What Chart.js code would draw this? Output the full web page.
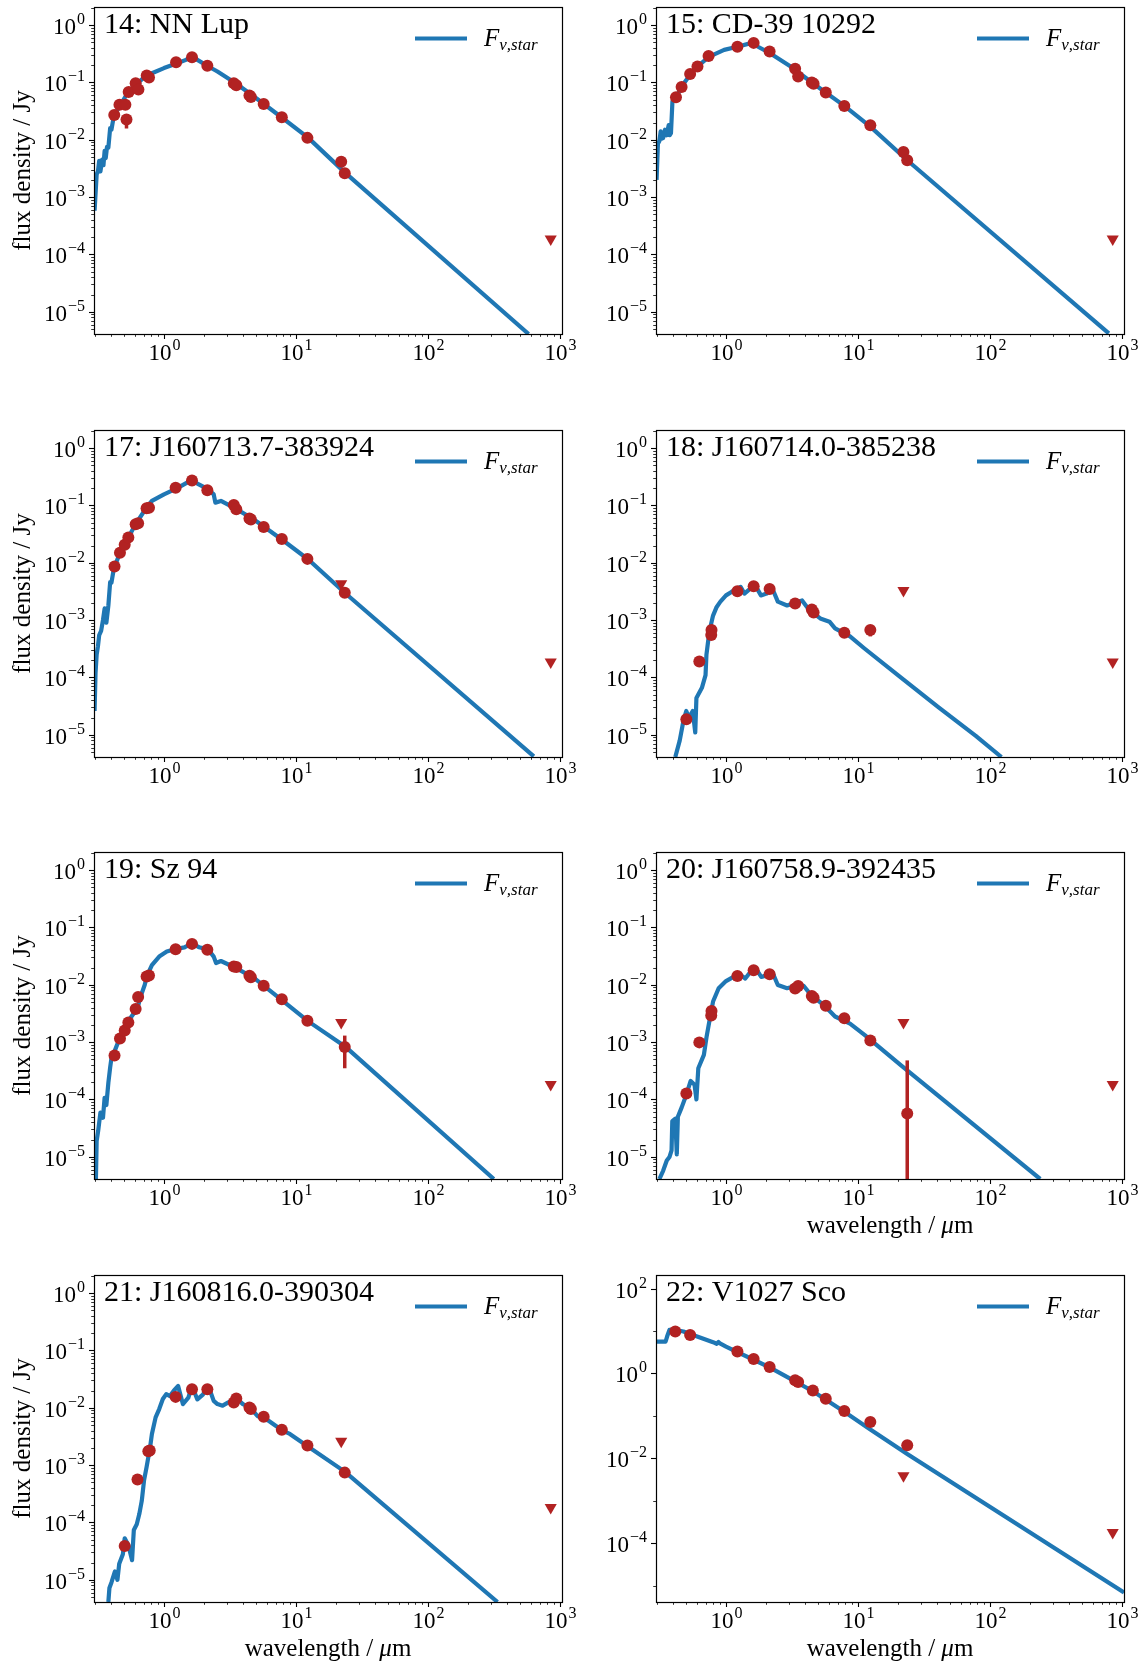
<!DOCTYPE html>
<html>
<head>
<meta charset="utf-8">
<script src="https://cdn.jsdelivr.net/npm/chart.js@4.4.1/dist/chart.umd.min.js"></script>
<style>
html, body { margin: 0; padding: 0; background: #fff; overflow: hidden; }
#fig { position: relative; width: 1147px; height: 1668px; overflow: hidden; }
#fig canvas { position: absolute; }
</style>
</head>
<body>
<div id="fig"></div>
<script>
// ---- data (wavelength in micron, flux density in Jy) ----

// 14: NN Lup
const model14Wave = [0.298, 0.309, 0.316, 0.323, 0.33, 0.34, 0.348, 0.355, 0.362, 0.37, 0.379, 0.391, 0.40, 0.417, 0.46, 0.52, 0.56, 0.63, 0.70, 0.81, 1.0, 1.26, 1.45, 1.63, 1.79, 2.17, 2.54, 3.49, 4.8, 7.9, 12.4, 23.4, 578];
const model14Flux = [5.8e-4, 2.5e-3, 2.8e-3, 4.3e-3, 2.8e-3, 4.5e-3, 3.6e-3, 6.4e-3, 4.8e-3, 7.5e-3, 7.3e-3, 0.016, 0.015, 0.026, 0.038, 0.061, 0.075, 0.097, 0.12, 0.145, 0.178, 0.216, 0.245, 0.28, 0.247, 0.19, 0.155, 0.097, 0.057, 0.024, 0.0108, 0.0027, 4.1e-6];
const phot14Wave = [0.42, 0.46, 0.51, 0.52, 0.54, 0.61, 0.64, 0.74, 0.77, 1.235, 1.63, 2.13, 3.38, 3.53, 4.44, 4.55, 5.69, 7.81, 12.2, 22.0, 23.4];
const phot14Flux = [0.027, 0.041, 0.041, 0.0225, 0.068, 0.097, 0.075, 0.132, 0.122, 0.225, 0.275, 0.195, 0.097, 0.089, 0.0595, 0.0557, 0.042, 0.0247, 0.0108, 0.00415, 0.0026];
const err14Wave = [0.52, 22.0];
const err14Lo = [0.0157, 3.5e-3];
const err14Hi = [0.0275, 4.9e-3];
const lim14Wave = [850];
const lim14Flux = [1.87e-4];

// 15: CD-39 10292
const model15Wave = [0.298, 0.305, 0.313, 0.32, 0.327, 0.334, 0.345, 0.355, 0.368, 0.375, 0.383, 0.393, 0.418, 0.461, 0.54, 0.61, 0.74, 0.968, 1.22, 1.62, 1.75, 2.17, 3.09, 4.55, 7.88, 12.4, 23.6, 794];
const model15Flux = [2.0e-3, 8.5e-3, 9.5e-3, 0.014, 0.0105, 0.0107, 0.015, 0.012, 0.018, 0.012, 0.013, 0.047, 0.053, 0.085, 0.14, 0.19, 0.28, 0.37, 0.42, 0.5, 0.42, 0.32, 0.19, 0.097, 0.039, 0.017, 0.0044, 4.2e-6];
const phot15Wave = [0.418, 0.461, 0.535, 0.608, 0.738, 1.22, 1.62, 2.14, 3.34, 3.52, 4.47, 4.61, 5.7, 7.88, 12.4, 22.1, 23.6];
const phot15Flux = [0.055, 0.083, 0.14, 0.19, 0.29, 0.42, 0.49, 0.345, 0.173, 0.127, 0.1, 0.095, 0.067, 0.039, 0.018, 0.0061, 0.0044];
const lim15Wave = [850];
const lim15Flux = [1.87e-4];

// 17: J160713.7-383924
const model17Wave = [0.298, 0.303, 0.309, 0.316, 0.323, 0.334, 0.345, 0.355, 0.366, 0.379, 0.391, 0.40, 0.417, 0.464, 0.537, 0.61, 0.715, 0.81, 1.0, 1.26, 1.63, 1.79, 2.17, 2.38, 2.45, 2.7, 3.49, 4.8, 7.9, 12.4, 23.4, 633];
const model17Flux = [2.6e-5, 1.2e-4, 2.5e-4, 3.5e-4, 5.5e-4, 6.5e-4, 1.0e-3, 1.6e-3, 9e-4, 1.8e-3, 4.6e-3, 4.5e-3, 7.9e-3, 0.015, 0.028, 0.047, 0.083, 0.12, 0.156, 0.2, 0.28, 0.24, 0.19, 0.156, 0.112, 0.12, 0.088, 0.057, 0.025, 0.0114, 0.003, 4.2e-6];
const phot17Wave = [0.422, 0.464, 0.504, 0.537, 0.61, 0.637, 0.738, 0.77, 1.225, 1.63, 2.13, 3.38, 3.53, 4.44, 4.55, 5.69, 7.81, 12.2, 23.4];
const phot17Flux = [0.0086, 0.0149, 0.0207, 0.0277, 0.047, 0.049, 0.089, 0.091, 0.203, 0.272, 0.185, 0.102, 0.086, 0.059, 0.057, 0.042, 0.026, 0.0117, 0.003];
const lim17Wave = [22.0, 850];
const lim17Flux = [4.3e-3, 1.86e-4];

// 18: J160714.0-385238
const model18Wave = [0.413, 0.446, 0.476, 0.50, 0.524, 0.56, 0.585, 0.597, 0.657, 0.70, 0.711, 0.748, 0.798, 0.85, 0.907, 1.0, 1.1, 1.29, 1.38, 1.52, 1.67, 1.84, 2.03, 2.24, 2.47, 2.9, 3.52, 3.77, 4.27, 5.18, 6.08, 6.7, 8.7, 11.2, 21.3, 40.8, 78, 122];
const model18Flux = [4.1e-6, 7.9e-6, 1.75e-5, 2.6e-5, 2.0e-5, 2.6e-5, 1.1e-5, 4.4e-5, 6.6e-5, 1.1e-4, 2.5e-4, 6.3e-4, 1.2e-3, 1.7e-3, 2.1e-3, 2.7e-3, 3.1e-3, 3.8e-3, 2.9e-3, 3.5e-3, 4.0e-3, 2.7e-3, 2.9e-3, 3.6e-3, 2.1e-3, 1.8e-3, 2.1e-3, 2.2e-3, 1.5e-3, 1.07e-3, 9.4e-4, 7.2e-4, 5.2e-4, 3.2e-4, 9.8e-5, 3.0e-5, 9.6e-6, 4.1e-6];
const phot18Wave = [0.501, 0.628, 0.773, 0.777, 1.22, 1.62, 2.14, 3.34, 4.47, 4.61, 7.88, 12.4];
const phot18Flux = [1.87e-5, 1.9e-4, 5.5e-4, 6.7e-4, 3.2e-3, 3.9e-3, 3.5e-3, 1.95e-3, 1.53e-3, 1.36e-3, 6.05e-4, 6.7e-4];
const err18Wave = [12.4];
const err18Lo = [5.2e-4];
const err18Hi = [7.7e-4];
const lim18Wave = [22.1, 850];
const lim18Flux = [3.3e-3, 1.86e-4];

// 19: Sz 94
const model19Wave = [0.305, 0.309, 0.317, 0.33, 0.345, 0.355, 0.366, 0.379, 0.391, 0.40, 0.422, 0.464, 0.504, 0.555, 0.63, 0.66, 0.715, 0.74, 0.81, 0.92, 1.05, 1.225, 1.43, 1.63, 1.85, 2.17, 2.38, 2.48, 2.7, 3.49, 4.8, 7.9, 12.4, 23.4, 315];
const model19Flux = [4.1e-6, 1.9e-5, 2.8e-5, 5.9e-5, 4.8e-5, 1.07e-4, 8e-5, 1.96e-4, 3.6e-4, 5.3e-4, 6.9e-4, 1.2e-3, 1.6e-3, 2.6e-3, 3.9e-3, 5.9e-3, 0.01, 0.014, 0.022, 0.031, 0.038, 0.042, 0.045, 0.053, 0.045, 0.041, 0.031, 0.024, 0.026, 0.0197, 0.0132, 5.3e-3, 2.3e-3, 8.5e-4, 4.1e-6];
const phot19Wave = [0.422, 0.464, 0.504, 0.537, 0.61, 0.637, 0.738, 0.77, 1.225, 1.63, 2.13, 3.38, 3.53, 4.44, 4.55, 5.69, 7.81, 12.2, 23.4];
const phot19Flux = [5.85e-4, 1.16e-3, 1.59e-3, 2.2e-3, 3.8e-3, 6.1e-3, 0.014, 0.0145, 0.0418, 0.0517, 0.0407, 0.0209, 0.0205, 0.0144, 0.0135, 9.6e-3, 5.6e-3, 2.37e-3, 8.2e-4];
const err19Wave = [23.4];
const err19Lo = [3.5e-4];
const err19Hi = [1.3e-3];
const lim19Wave = [22.0, 850];
const lim19Flux = [2.2e-3, 1.83e-4];

// 20: J160758.9-392435
const model20Wave = [0.313, 0.334, 0.356, 0.373, 0.387, 0.392, 0.413, 0.424, 0.432, 0.461, 0.50, 0.54, 0.578, 0.597, 0.617, 0.68, 0.711, 0.748, 0.798, 0.88, 1.0, 1.14, 1.25, 1.4, 1.57, 1.68, 1.85, 2.03, 2.24, 2.47, 2.9, 3.52, 3.87, 4.41, 5.53, 6.7, 8.7, 11.2, 21.3, 240];
const model20Flux = [4.1e-6, 5.7e-6, 8.6e-6, 9.9e-6, 1.3e-5, 4.2e-5, 4.6e-5, 1.1e-5, 5e-5, 7.2e-5, 1.2e-4, 2.1e-4, 1.8e-4, 1.0e-4, 3.5e-4, 6e-4, 1.2e-3, 2.3e-3, 5.1e-3, 8.7e-3, 0.0116, 0.0137, 0.0157, 0.0129, 0.018, 0.0193, 0.0137, 0.0146, 0.0168, 9.9e-3, 8.7e-3, 9.8e-3, 9.6e-3, 6.6e-3, 4.4e-3, 2.8e-3, 2.1e-3, 1.34e-3, 3.9e-4, 4.1e-6];
const phot20Wave = [0.501, 0.628, 0.773, 0.777, 1.22, 1.62, 2.14, 3.34, 3.52, 4.47, 4.61, 5.7, 7.88, 12.4, 23.6];
const phot20Flux = [1.27e-4, 9.9e-4, 2.9e-3, 3.5e-3, 0.0143, 0.018, 0.0153, 8.6e-3, 9.5e-3, 6.4e-3, 5.95e-3, 4.3e-3, 2.6e-3, 1.07e-3, 5.7e-5];
const err20Wave = [23.6];
const err20Lo = [1e-6];
const err20Hi = [4.8e-4];
const lim20Wave = [22.1, 850];
const lim20Flux = [2.2e-3, 1.82e-4];

// 21: J160816.0-390304
const model21Wave = [0.379, 0.386, 0.40, 0.425, 0.444, 0.458, 0.488, 0.504, 0.537, 0.573, 0.591, 0.622, 0.65, 0.679, 0.706, 0.738, 0.786, 0.81, 0.864, 0.92, 0.98, 1.04, 1.11, 1.19, 1.28, 1.39, 1.53, 1.63, 1.79, 1.97, 2.17, 2.38, 2.54, 2.78, 3.07, 3.49, 3.96, 4.49, 5.1, 6.16, 6.97, 7.92, 8.98, 12.4, 23.4, 336];
const model21Flux = [4.1e-6, 7.2e-6, 9e-6, 1.4e-5, 1.0e-5, 1.9e-5, 2.8e-5, 5.3e-5, 4.0e-5, 2.2e-5, 7.4e-5, 9.3e-5, 1.4e-4, 2.4e-4, 5.4e-4, 9.2e-4, 2.1e-3, 3.5e-3, 6.8e-3, 9.5e-3, 0.0142, 0.0173, 0.016, 0.02, 0.024, 0.0116, 0.015, 0.024, 0.014, 0.017, 0.024, 0.0132, 0.0116, 0.0109, 0.0124, 0.0151, 0.0116, 0.0101, 7.2e-3, 6.0e-3, 4.9e-3, 4.0e-3, 3.5e-3, 2.1e-3, 7.7e-4, 4.1e-6];
const phot21Wave = [0.504, 0.63, 0.761, 0.78, 1.225, 1.63, 2.13, 3.38, 3.53, 4.44, 4.55, 5.69, 7.81, 12.2, 23.4];
const phot21Flux = [3.9e-5, 5.6e-4, 1.75e-3, 1.8e-3, 0.0155, 0.021, 0.021, 0.0124, 0.0145, 0.0101, 9.5e-3, 7.0e-3, 4.15e-3, 2.2e-3, 7.4e-4];
const lim21Wave = [22.0, 850];
const lim21Flux = [2.6e-3, 1.82e-4];

// 22: V1027 Sco
const model22Wave = [0.296, 0.349, 0.358, 0.373, 0.418, 0.476, 0.542, 0.658, 0.798, 0.85, 0.877, 0.9, 1.0, 1.22, 1.62, 2.14, 3.34, 4.55, 7.88, 12.4, 23.6, 1035];
const model22Flux = [5.65, 5.65, 7.4, 10.6, 10.6, 9.7, 8.4, 6.76, 5.45, 5.0, 5.5, 5.1, 4.3, 3.18, 2.1, 1.39, 0.65, 0.38, 0.125, 0.048, 0.0126, 6.9e-6];
const phot22Wave = [0.413, 0.535, 1.22, 1.62, 2.14, 3.34, 3.52, 4.55, 5.7, 7.88, 12.4, 23.6];
const phot22Flux = [9.7, 8.1, 3.3, 2.18, 1.42, 0.69, 0.63, 0.396, 0.253, 0.13, 0.072, 0.0204];
const lim22Wave = [22.1, 850];
const lim22Flux = [3.9e-3, 1.78e-4];

// axis limits
const X_MIN = 0.295, X_MAX = 1035;
const Y_MIN = 4.1e-6, Y_MAX = 2.07, Y_MAX_22 = 209;

// ---- layout (pixels) ----
const AX_LEFT = [94, 656];
const AX_TOP = [5, 428, 850, 1273];
const AX_W = 468, AX_H = 329;
const PAD = {left: 94, top: 5, right: 22, bottom: 61};

const BLUE = '#1f77b4';
const RED = '#b22222';
const SERIF = '"Liberation Serif", "DejaVu Serif", serif';

const panels = [
  {title: '14: NN Lup', col: 0, row: 0, mw: model14Wave, mf: model14Flux, pw: phot14Wave, pf: phot14Flux, ew: err14Wave, elo: err14Lo, ehi: err14Hi, lw: lim14Wave, lf: lim14Flux, yMax: Y_MAX, yStep: 1, xLabel: false, yLabel: true},
  {title: '15: CD-39 10292', col: 1, row: 0, mw: model15Wave, mf: model15Flux, pw: phot15Wave, pf: phot15Flux, ew: [], elo: [], ehi: [], lw: lim15Wave, lf: lim15Flux, yMax: Y_MAX, yStep: 1, xLabel: false, yLabel: false},
  {title: '17: J160713.7-383924', col: 0, row: 1, mw: model17Wave, mf: model17Flux, pw: phot17Wave, pf: phot17Flux, ew: [], elo: [], ehi: [], lw: lim17Wave, lf: lim17Flux, yMax: Y_MAX, yStep: 1, xLabel: false, yLabel: true},
  {title: '18: J160714.0-385238', col: 1, row: 1, mw: model18Wave, mf: model18Flux, pw: phot18Wave, pf: phot18Flux, ew: err18Wave, elo: err18Lo, ehi: err18Hi, lw: lim18Wave, lf: lim18Flux, yMax: Y_MAX, yStep: 1, xLabel: false, yLabel: false},
  {title: '19: Sz 94', col: 0, row: 2, mw: model19Wave, mf: model19Flux, pw: phot19Wave, pf: phot19Flux, ew: err19Wave, elo: err19Lo, ehi: err19Hi, lw: lim19Wave, lf: lim19Flux, yMax: Y_MAX, yStep: 1, xLabel: false, yLabel: true},
  {title: '20: J160758.9-392435', col: 1, row: 2, mw: model20Wave, mf: model20Flux, pw: phot20Wave, pf: phot20Flux, ew: err20Wave, elo: err20Lo, ehi: err20Hi, lw: lim20Wave, lf: lim20Flux, yMax: Y_MAX, yStep: 1, xLabel: true, yLabel: false},
  {title: '21: J160816.0-390304', col: 0, row: 3, mw: model21Wave, mf: model21Flux, pw: phot21Wave, pf: phot21Flux, ew: [], elo: [], ehi: [], lw: lim21Wave, lf: lim21Flux, yMax: Y_MAX, yStep: 1, xLabel: true, yLabel: true},
  {title: '22: V1027 Sco', col: 1, row: 3, mw: model22Wave, mf: model22Flux, pw: phot22Wave, pf: phot22Flux, ew: [], elo: [], ehi: [], lw: lim22Wave, lf: lim22Flux, yMax: Y_MAX_22, yStep: 2, xLabel: true, yLabel: false}
];

function pts(xs, ys) {
  return xs.map((x, i) => ({x: x, y: ys[i]}));
}

// vertical error bars as broken line segments
function errSegments(xs, lo, hi) {
  const out = [];
  xs.forEach((x, i) => {
    out.push({x: x, y: lo[i]}, {x: x, y: hi[i]}, {x: x, y: null});
  });
  return out;
}

// decade ticks; step = label every n decades, subs = minor ticks at 2..9
function logTicks(min, max, step, subs) {
  const major = [], minor = [];
  for (let e = Math.floor(Math.log10(min)); e <= Math.ceil(Math.log10(max)); e++) {
    const d = Math.pow(10, e);
    if (d >= min && d <= max) {
      if (e % step === 0) major.push(e); else minor.push(d);
    }
    if (subs) {
      for (let k = 2; k < 10; k++) {
        const v = k * d;
        if (v >= min && v <= max) minor.push(v);
      }
    }
  }
  return {major, minor};
}

function powLabel(ctx, e, x, y, align) {
  const base = '10';
  const ex = e < 0 ? '\u2212' + (-e) : String(e);
  ctx.font = '23px ' + SERIF;
  const wb = ctx.measureText(base).width;
  ctx.font = '16px ' + SERIF;
  const we = ctx.measureText(ex).width;
  const total = wb + 1 + we;
  const x0 = align === 'center' ? x - total / 2 : x - total;
  ctx.font = '23px ' + SERIF;
  ctx.fillText(base, x0, y);
  ctx.font = '16px ' + SERIF;
  ctx.fillText(ex, x0 + wb + 1, y - 10);
}

// frame, ticks, tick labels, title, legend and axis labels
const sedFrame = {
  id: 'sedFrame',
  afterDraw(chart, args, opts) {
    const ctx = chart.ctx;
    const a = chart.chartArea;
    const xs = chart.scales.x, ys = chart.scales.y;
    ctx.save();
    ctx.fillStyle = '#000';
    ctx.strokeStyle = '#000';
    ctx.textAlign = 'left';
    ctx.textBaseline = 'alphabetic';

    // x ticks
    const xt = logTicks(xs.min, xs.max, 1, true);
    ctx.lineWidth = 0.8;
    xt.minor.forEach(v => {
      const px = Math.round(xs.getPixelForValue(v)) + 0.5;
      ctx.beginPath(); ctx.moveTo(px, a.bottom); ctx.lineTo(px, a.bottom + 2.8); ctx.stroke();
    });
    ctx.lineWidth = 1.1;
    xt.major.forEach(e => {
      const px = Math.round(xs.getPixelForValue(Math.pow(10, e))) + 0.5;
      ctx.beginPath(); ctx.moveTo(px, a.bottom); ctx.lineTo(px, a.bottom + 5); ctx.stroke();
      powLabel(ctx, e, px, a.bottom + 26, 'center');
    });

    // y ticks
    const yt = logTicks(ys.min, ys.max, opts.yStep, opts.yStep === 1);
    ctx.lineWidth = 0.8;
    yt.minor.forEach(v => {
      const py = Math.round(ys.getPixelForValue(v)) + 0.5;
      ctx.beginPath(); ctx.moveTo(a.left, py); ctx.lineTo(a.left - 2.8, py); ctx.stroke();
    });
    ctx.lineWidth = 1.1;
    yt.major.forEach(e => {
      const py = Math.round(ys.getPixelForValue(Math.pow(10, e))) + 0.5;
      ctx.beginPath(); ctx.moveTo(a.left, py); ctx.lineTo(a.left - 5, py); ctx.stroke();
      powLabel(ctx, e, a.left - 9, py + 8, 'right');
    });

    // frame
    ctx.lineWidth = 1.2;
    ctx.strokeRect(Math.round(a.left) + 0.5, Math.round(a.top) + 0.5,
      Math.round(a.right - a.left), Math.round(a.bottom - a.top));

    // panel title
    ctx.font = '30px ' + SERIF;
    ctx.fillText(opts.title, a.left + 10, a.top + 26);

    // legend
    ctx.strokeStyle = BLUE;
    ctx.lineWidth = 4;
    ctx.beginPath();
    ctx.moveTo(a.right - 147, a.top + 31.5);
    ctx.lineTo(a.right - 95, a.top + 31.5);
    ctx.stroke();
    ctx.fillStyle = '#000';
    ctx.font = 'italic 25px ' + SERIF;
    ctx.fillText('F', a.right - 78, a.top + 39);
    const wF = ctx.measureText('F').width;
    ctx.font = 'italic 17px ' + SERIF;
    ctx.fillText('\u03bd,star', a.right - 78 + wF, a.top + 43);

    // axis labels
    if (opts.xLabel) {
      const p1 = 'wavelength / ', p2 = '\u03bc', p3 = 'm';
      ctx.font = '25px ' + SERIF;
      const w1 = ctx.measureText(p1).width, w3 = ctx.measureText(p3).width;
      ctx.font = 'italic 25px ' + SERIF;
      const w2 = ctx.measureText(p2).width;
      const x0 = (a.left + a.right) / 2 - (w1 + w2 + w3) / 2;
      const yb = a.bottom + 54;
      ctx.font = '25px ' + SERIF;
      ctx.fillText(p1, x0, yb);
      ctx.font = 'italic 25px ' + SERIF;
      ctx.fillText(p2, x0 + w1, yb);
      ctx.font = '25px ' + SERIF;
      ctx.fillText(p3, x0 + w1 + w2, yb);
    }
    if (opts.yLabel) {
      ctx.save();
      ctx.translate(a.left - 64, (a.top + a.bottom) / 2);
      ctx.rotate(-Math.PI / 2);
      ctx.textAlign = 'center';
      ctx.font = '25px ' + SERIF;
      ctx.fillText('flux density / Jy', 0, 0);
      ctx.restore();
    }
    ctx.restore();
  }
};

const fig = document.getElementById('fig');

panels.forEach(p => {
  const cv = document.createElement('canvas');
  cv.width = PAD.left + AX_W + PAD.right;
  cv.height = PAD.top + AX_H + PAD.bottom;
  cv.style.left = (AX_LEFT[p.col] - PAD.left) + 'px';
  cv.style.top = (AX_TOP[p.row] - PAD.top) + 'px';
  cv.style.width = cv.width + 'px';
  cv.style.height = cv.height + 'px';
  fig.appendChild(cv);

  new Chart(cv, {
    type: 'scatter',
    data: {
      datasets: [
        {
          label: 'upper limits',
          data: pts(p.lw, p.lf),
          pointStyle: 'triangle',
          pointRotation: 180,
          pointRadius: 7,
          backgroundColor: RED,
          borderColor: RED,
          borderWidth: 0,
          clip: 0,
          order: 0
        },
        {
          label: 'photometry',
          data: pts(p.pw, p.pf),
          pointStyle: 'circle',
          pointRadius: 6,
          backgroundColor: RED,
          borderColor: RED,
          borderWidth: 0,
          clip: 0,
          order: 1
        },
        {
          label: 'errors',
          data: errSegments(p.ew, p.elo, p.ehi),
          showLine: true,
          spanGaps: false,
          pointRadius: 0,
          borderColor: RED,
          borderWidth: 3.5,
          borderCapStyle: 'butt',
          clip: 0,
          order: 2
        },
        {
          label: 'F_nu,star',
          data: pts(p.mw, p.mf),
          showLine: true,
          pointRadius: 0,
          borderColor: BLUE,
          borderWidth: 4.2,
          borderJoinStyle: 'round',
          tension: 0,
          clip: 0,
          order: 3
        }
      ]
    },
    options: {
      responsive: false,
      animation: false,
      devicePixelRatio: 1,
      events: [],
      layout: {padding: {left: PAD.left, top: PAD.top, right: PAD.right, bottom: PAD.bottom}},
      plugins: {
        legend: {display: false},
        tooltip: {enabled: false},
        sedFrame: {title: p.title, yStep: p.yStep, xLabel: p.xLabel, yLabel: p.yLabel}
      },
      scales: {
        x: {type: 'logarithmic', min: X_MIN, max: X_MAX, display: false},
        y: {type: 'logarithmic', min: Y_MIN, max: p.yMax, display: false}
      }
    },
    plugins: [sedFrame]
  });
});
</script>
</body>
</html>
